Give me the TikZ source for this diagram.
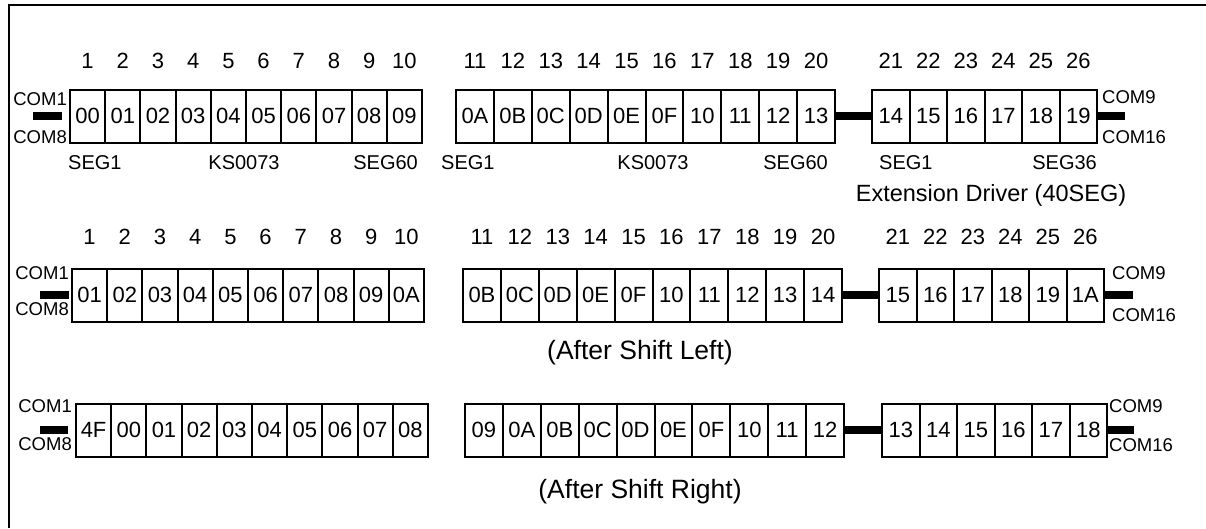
\documentclass[tikz,border=0pt]{standalone}
\usepackage{fontspec}
\setmainfont{Liberation Sans}
\usetikzlibrary{positioning}

\begin{document}
\begin{tikzpicture}[x=1pt,y=-1pt,
	cell/.style = {draw, line width=2pt, minimum height=53pt, inner sep=0pt, font=\fontsize{22}{22}\selectfont},
	num/.style = {inner sep=0pt, font=\fontsize{22}{22}\selectfont},
	com/.style = {inner sep=0pt, font=\fontsize{18.5}{18.5}\selectfont},
	seg/.style = {inner sep=0pt, font=\fontsize{20}{20}\selectfont},
	caption/.style = {inner sep=0pt, font=\fontsize{26.5}{26.5}\selectfont},
	bus/.style = {line width=8pt}]

	\useasboundingbox (0,0) rectangle (1206,528);
	\draw[line width=2pt] (9,528) -- (9,5) -- (1206,5);

	% row 1: before shift
	\foreach \t [count=\i] in {00,01,02,03,04,05,06,07,08,09} {
		\node[cell,minimum width=35.2pt] (r1a\i) at ({70+(\i-0.5)*35.2},116) {\t};
		\node[num] (n1a\i) at (r1a\i |- 0,61) {\i};
	}
	\foreach \t [count=\i, evaluate=\i as \n using int(\i+10)] in {0A,0B,0C,0D,0E,0F,10,11,12,13} {
		\node[cell,minimum width=37.9pt] (r1b\i) at ({456+(\i-0.5)*37.9},116) {\t};
		\node[num] (n1b\i) at (r1b\i |- 0,61) {\n};
	}
	\foreach \t [count=\i, evaluate=\i as \n using int(\i+20)] in {14,15,16,17,18,19} {
		\node[cell,minimum width=37.5pt] (r1c\i) at ({872+(\i-0.5)*37.5},116) {\t};
		\node[num] (n1c\i) at (r1c\i |- 0,61) {\n};
	}
	\node[com,anchor=east] (r1com1) at (67,99) {COM1};
	\node[com,anchor=east] (r1com8) at (67,137) {COM8};
	\node[com,anchor=west] (r1com9) at (1102,97) {COM9};
	\node[com,anchor=west] (r1com16) at (1102,137) {COM16};
	\coordinate (r1l1) at (r1a1 -| 33,0);
	\coordinate (r1l2) at (r1a1 -| 62,0);
	\coordinate (r1r) at (r1c6 -| 1125,0);
	\draw[bus] (r1l1) -- (r1l2);
	\draw[bus] (r1b10.east) -- (r1c1.west);
	\draw[bus] (r1c6.east) -- (r1r);

	\node[seg,anchor=west] (seg1a) at (68,163) {SEG1};
	\node[seg] (ksa) at (244,163) {KS0073};
	\node[seg,anchor=east] (seg60a) at (418,163) {SEG60};
	\node[seg,anchor=west] (seg1b) at (441,163) {SEG1};
	\node[seg] (ksb) at (653,163) {KS0073};
	\node[seg,anchor=east] (seg60b) at (828,163) {SEG60};
	\node[seg,anchor=west] (seg1c) at (879,163) {SEG1};
	\node[seg,anchor=east] (seg36c) at (1097,163) {SEG36};
	\node[seg,font=\fontsize{23.5}{23.5}\selectfont] (ext) at (991,195) {Extension Driver (40SEG)};

	% row 2: after shift left
	\foreach \t [count=\i] in {01,02,03,04,05,06,07,08,09,0A} {
		\node[cell,minimum width=35.2pt] (r2a\i) at ({72+(\i-0.5)*35.2},295) {\t};
		\node[num] (n2a\i) at (r2a\i |- 0,237) {\i};
	}
	\foreach \t [count=\i, evaluate=\i as \n using int(\i+10)] in {0B,0C,0D,0E,0F,10,11,12,13,14} {
		\node[cell,minimum width=37.9pt] (r2b\i) at ({463+(\i-0.5)*37.9},295) {\t};
		\node[num] (n2b\i) at (r2b\i |- 0,237) {\n};
	}
	\foreach \t [count=\i, evaluate=\i as \n using int(\i+20)] in {15,16,17,18,19,1A} {
		\node[cell,minimum width=37.5pt] (r2c\i) at ({879+(\i-0.5)*37.5},295) {\t};
		\node[num] (n2c\i) at (r2c\i |- 0,237) {\n};
	}
	\node[com,anchor=east] (r2com1) at (69,273) {COM1};
	\node[com,anchor=east] (r2com8) at (69,309) {COM8};
	\node[com,anchor=west] (r2com9) at (1112,273) {COM9};
	\node[com,anchor=west] (r2com16) at (1112,315) {COM16};
	\coordinate (r2l1) at (r2a1 -| 40,0);
	\coordinate (r2l2) at (r2a1 -| 69,0);
	\coordinate (r2r) at (r2c6 -| 1133,0);
	\draw[bus] (r2l1) -- (r2l2);
	\draw[bus] (r2b10.east) -- (r2c1.west);
	\draw[bus] (r2c6.east) -- (r2r);
	\node[caption] (left) at (640,353) {(After Shift Left)};

	% row 3: after shift right
	\foreach \t [count=\i] in {4F,00,01,02,03,04,05,06,07,08}
		\node[cell,minimum width=35.2pt] (r3a\i) at ({76+(\i-0.5)*35.2},430) {\t};
	\foreach \t [count=\i] in {09,0A,0B,0C,0D,0E,0F,10,11,12}
		\node[cell,minimum width=37.9pt] (r3b\i) at ({465+(\i-0.5)*37.9},430) {\t};
	\foreach \t [count=\i] in {13,14,15,16,17,18}
		\node[cell,minimum width=37.5pt] (r3c\i) at ({882+(\i-0.5)*37.5},430) {\t};
	\node[com,anchor=east] (r3com1) at (72,406) {COM1};
	\node[com,anchor=east] (r3com8) at (72,444) {COM8};
	\node[com,anchor=west] (r3com9) at (1109,406) {COM9};
	\node[com,anchor=west] (r3com16) at (1109,445) {COM16};
	\coordinate (r3l1) at (r3a1 -| 40,0);
	\coordinate (r3l2) at (r3a1 -| 68,0);
	\coordinate (r3r) at (r3c6 -| 1134,0);
	\draw[bus] (r3l1) -- (r3l2);
	\draw[bus] (r3b10.east) -- (r3c1.west);
	\draw[bus] (r3c6.east) -- (r3r);
	\node[caption] (right) at (640,492) {(After Shift Right)};

\end{tikzpicture}
\end{document}
